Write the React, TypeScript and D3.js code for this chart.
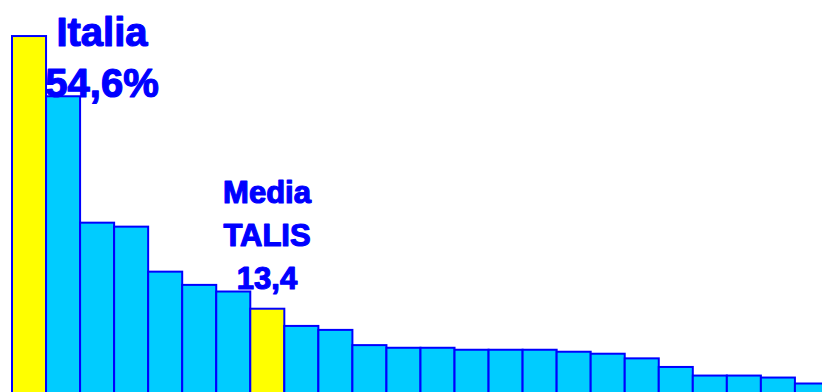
import React from "react";
import * as d3 from "d3";

const categories: string[] = [
  "Italia", "P2", "P3", "P4", "P5", "P6", "P7", "Media TALIS", "P9", "P10", "P11", "P12",
  "P13", "P14", "P15", "P16", "P17", "P18", "P19", "P20", "P21", "P22", "P23", "P24",
];
const values: number[] = [
  54.6, 45.5, 26.4, 25.8, 19.0, 17.0, 16.0, 13.4, 10.8, 10.2, 7.9, 7.5,
  7.5, 7.2, 7.2, 7.2, 6.9, 6.6, 5.9, 4.6, 3.3, 3.3, 3.0, 2.1,
];
const highlighted: string[] = ["Italia", "Media TALIS"];
const labelItalia: string[] = ["Italia", "54,6%"];
const labelMedia: string[] = ["Media", "TALIS", "13,4"];

export default function App() {
  const W = 822;
  const H = 392;
  const x = d3.scaleBand<string>().domain(categories).range([12, 12 + 24 * 34.04]).padding(0);
  const y = d3.scaleLinear().domain([0, 60]).range([397.4, 0.3]);
  const font = "'Liberation Sans', Arial, sans-serif";
  return (
    <div style={{ position: "fixed", left: 0, top: 0, width: W, height: H, background: "#fff" }}>
      <svg width={W} height={H} style={{ display: "block" }}>
        <rect width={W} height={H} fill="#ffffff" />
        {categories.map((c, i) => (
          <rect
            key={c}
            x={x(c)!}
            y={y(values[i])}
            width={x.bandwidth()}
            height={y(0) - y(values[i]) + 10}
            fill={highlighted.includes(c) ? "#ffff00" : "#00ccff"}
            stroke="#0000ff"
            strokeWidth={2}
          />
        ))}
        <g
          fill="#0000ff"
          stroke="#0000ff"
          strokeWidth={1.2}
          strokeLinejoin="round"
          fontFamily={font}
          fontWeight="bold"
          textAnchor="middle"
        >
          {labelItalia.map((t, i) => (
            <text key={t} x={102} y={46 + i * 51} fontSize={40}>
              {t}
            </text>
          ))}
          {labelMedia.map((t, i) => (
            <text key={t} x={267} y={203 + i * 43} fontSize={31}>
              {t}
            </text>
          ))}
        </g>
      </svg>
    </div>
  );
}
